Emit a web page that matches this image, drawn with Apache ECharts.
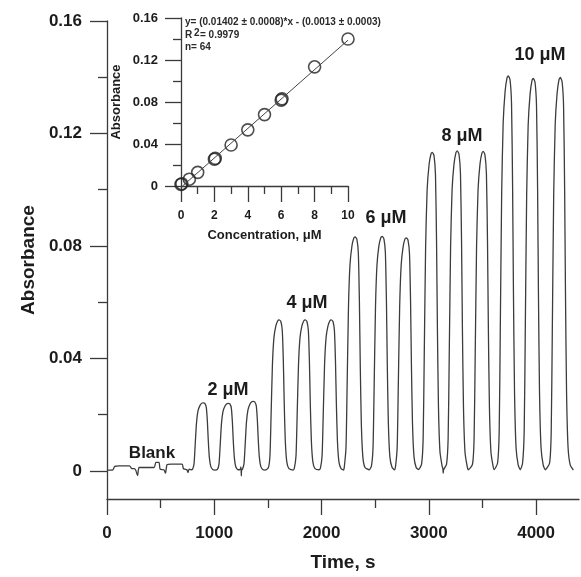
<!DOCTYPE html>
<html>
<head>
<meta charset="utf-8">
<script src="https://cdn.jsdelivr.net/npm/echarts@6/dist/echarts.min.js"></script>
<style>
html, body { margin: 0; padding: 0; background: #fff; }
#main { width: 581px; height: 577px; }
</style>
</head>
<body>
<div id="main"></div>
<script>
// main trace: [time s, absorbance]
const blankTrace = [[0,0.0003],[55,0.0004],[72,0.0016],[110,0.0018],[210,0.0018],[232,0.0008],[255,0.0008],[268,0.0002],[285,-0.0017],[298,0.0012],[330,0.0012],[440,0.0012],[455,0.0030],[485,0.0030],[495,0.0006],[530,0.0004],[545,-0.0008],[560,0.0022],[600,0.0024],[700,0.0024],[712,0.0008],[725,0.0006],[745,0.0004],[755,-0.0006],[765,0.0006],[785,0.0004]];

const trace2uM = [
  [796,0.0005],[811,0.0024],[821,0.0085],[834,0.0169],[848,0.0213],[866,0.0232],[884,0.0241],[896,0.0242],[912,0.0240],[926,0.0225],[936,0.0174],[944,0.0109],[954,0.0048],[968,0.0015],[988,0.0004],[1007,0.0003],
  [1029,0.0005],[1044,0.0024],[1054,0.0084],[1067,0.0168],[1081,0.0211],[1099,0.0230],[1117,0.0239],[1129,0.0240],[1145,0.0238],[1159,0.0223],[1169,0.0173],[1177,0.0108],[1187,0.0048],[1201,0.0014],[1221,0.0004],[1238,0.0004],[1249,0.0014],[1252,-0.0018],[1255,0.0004],
  [1262,0.0005],[1277,0.0025],[1287,0.0086],[1300,0.0173],[1314,0.0217],[1332,0.0237],[1350,0.0246],[1362,0.0247],[1378,0.0245],[1392,0.0230],[1402,0.0178],[1410,0.0111],[1420,0.0049],[1434,0.0015],[1454,0.0004],[1474,0.0003]
];

const trace4uM = [
  [1504,0.0011],[1519,0.0054],[1529,0.0188],[1542,0.0376],[1556,0.0473],[1574,0.0516],[1592,0.0534],[1604,0.0537],[1620,0.0532],[1634,0.0499],[1644,0.0387],[1652,0.0242],[1662,0.0107],[1676,0.0032],[1696,0.0008],[1735,0.0003],
  [1747,0.0011],[1762,0.0054],[1772,0.0188],[1785,0.0376],[1799,0.0473],[1817,0.0516],[1835,0.0534],[1847,0.0537],[1863,0.0532],[1877,0.0499],[1887,0.0387],[1895,0.0242],[1905,0.0107],[1919,0.0032],[1939,0.0008],[1978,0.0004],
  [1990,0.0011],[2005,0.0054],[2015,0.0188],[2028,0.0376],[2042,0.0473],[2060,0.0516],[2078,0.0534],[2090,0.0537],[2106,0.0532],[2120,0.0499],[2130,0.0387],[2138,0.0242],[2148,0.0107],[2162,0.0032],[2182,0.0008],[2205,0.0003]
];

const trace6uM = [
  [2213,0.0017],[2228,0.0083],[2238,0.0291],[2251,0.0582],[2265,0.0732],[2283,0.0799],[2301,0.0828],[2313,0.0832],[2329,0.0824],[2343,0.0774],[2353,0.0599],[2361,0.0374],[2371,0.0166],[2385,0.0050],[2405,0.0012],[2444,0.0004],
  [2465,0.0017],[2480,0.0083],[2490,0.0292],[2503,0.0584],[2517,0.0734],[2535,0.0801],[2553,0.0830],[2565,0.0834],[2581,0.0826],[2595,0.0776],[2605,0.0600],[2613,0.0375],[2623,0.0167],[2637,0.0050],[2657,0.0013],[2680,0.0004],
  [2690,0.0017],[2705,0.0083],[2715,0.0290],[2728,0.0580],[2742,0.0730],[2760,0.0796],[2778,0.0825],[2790,0.0829],[2806,0.0821],[2820,0.0771],[2830,0.0597],[2838,0.0373],[2848,0.0166],[2862,0.0050],[2882,0.0012],[2904,0.0005]
];

const trace8uM = [
  [2932,0.0023],[2947,0.0113],[2957,0.0397],[2970,0.0793],[2984,0.0997],[3002,0.1088],[3020,0.1127],[3032,0.1133],[3048,0.1122],[3062,0.1054],[3072,0.0816],[3080,0.0510],[3090,0.0227],[3104,0.0068],[3124,0.0017],[3131,0.0008],[3134,-0.0008],[3138,0.0004],
  [3165,0.0023],[3180,0.0114],[3190,0.0398],[3203,0.0797],[3217,0.1001],[3235,0.1092],[3253,0.1132],[3265,0.1138],[3281,0.1127],[3295,0.1058],[3305,0.0819],[3313,0.0512],[3323,0.0228],[3337,0.0068],[3357,0.0017],[3368,0.0004],
  [3407,0.0023],[3422,0.0114],[3432,0.0398],[3445,0.0795],[3459,0.1000],[3477,0.1091],[3495,0.1130],[3507,0.1136],[3523,0.1125],[3537,0.1056],[3547,0.0818],[3555,0.0511],[3565,0.0227],[3579,0.0068],[3599,0.0017],[3610,0.0005]
];

const trace10uM = [
  [3641,0.0028],[3656,0.0141],[3666,0.0492],[3679,0.0984],[3693,0.1236],[3711,0.1349],[3729,0.1398],[3741,0.1405],[3757,0.1391],[3771,0.1307],[3781,0.1012],[3789,0.0632],[3799,0.0281],[3813,0.0084],[3833,0.0021],[3853,0.0004],
  [3874,0.0028],[3889,0.0140],[3899,0.0489],[3912,0.0977],[3926,0.1228],[3944,0.1340],[3962,0.1389],[3974,0.1396],[3990,0.1382],[4004,0.1298],[4014,0.1005],[4022,0.0628],[4032,0.0279],[4046,0.0084],[4066,0.0021],[4086,0.0004],
  [4126,0.0028],[4141,0.0140],[4151,0.0490],[4164,0.0979],[4178,0.1231],[4196,0.1343],[4214,0.1392],[4226,0.1399],[4242,0.1385],[4256,0.1301],[4266,0.1007],[4274,0.0630],[4284,0.0280],[4298,0.0084],[4318,0.0021],[4347,0.0003]
];

// inset calibration
const concentration = [0, 0.05, 0.5, 1, 2, 2.05, 3, 4, 5, 6, 6.05, 8, 10];
const absorbanceCal = [0.0015, 0.0022, 0.0065, 0.0130, 0.0255, 0.0263, 0.0390, 0.0535, 0.0680, 0.0818, 0.0830, 0.1135, 0.1400];
const fitLine = [[0.1, 0.0001], [10, 0.1389]];

// tick labels
const timeTicks = [0, 1000, 2000, 3000, 4000];
const timeMinor = [500, 1500, 2500, 3500];
const absTicks = [0, 0.04, 0.08, 0.12, 0.16];
const absMinor = [0.02, 0.06, 0.10, 0.14];

const font = 'Liberation Sans';
const ink = '#1c1c1c';
const axisColor = '#3a3a3a';

const chart = echarts.init(document.getElementById('main'));

const mainTrace = [].concat(blankTrace, trace2uM, trace4uM, trace6uM, trace8uM, trace10uM);

function label(text, x, y, size) {
  return {
    type: 'text', x: x, y: y, z: 100,
    style: {
      text: text, fill: ink, align: 'center', verticalAlign: 'middle',
      font: 'bold ' + size + 'px "' + font + '"'
    }
  };
}
function eqText(text, x, y, size) {
  return {
    type: 'text', x: x, y: y, z: 100,
    style: {
      text: text, fill: '#2a2a2a', align: 'left', verticalAlign: 'middle',
      font: 'bold ' + size + 'px "' + font + '"'
    }
  };
}

const lineStyle = { color: axisColor, width: 1.3 };

chart.setOption({
  animation: false,
  backgroundColor: '#fff',
  grid: [
    { left: 107, top: 21, width: 472, height: 483 },
    { left: 181, top: 18, width: 167, height: 168 }
  ],
  xAxis: [
    {
      gridIndex: 0, type: 'value', min: 0, max: 4400, position: 'bottom',
      axisLine: { onZero: false, lineStyle: lineStyle },
      axisTick: { customValues: timeTicks, length: 16, lineStyle: lineStyle },
      axisLabel: { customValues: timeTicks, formatter: v => String(v), margin: 26, color: ink, fontFamily: font, fontWeight: 'bold', fontSize: 17 },
      splitLine: { show: false },
      name: 'Time, s', nameLocation: 'middle', nameGap: 54,
      nameTextStyle: { color: ink, fontFamily: font, fontWeight: 'bold', fontSize: 19 }
    },
    {
      gridIndex: 0, type: 'value', min: 0, max: 4400, position: 'bottom',
      axisLine: { show: false, onZero: false },
      axisTick: { customValues: timeMinor, length: 9, lineStyle: lineStyle },
      axisLabel: { show: false },
      splitLine: { show: false }
    },
    {
      gridIndex: 1, type: 'value', min: 0, max: 10, interval: 2, position: 'bottom',
      axisLine: { onZero: false, lineStyle: lineStyle },
      axisTick: { length: 16, lineStyle: lineStyle },
      minorTick: { show: true, splitNumber: 2, length: 8, lineStyle: lineStyle },
      axisLabel: { margin: 24, color: ink, fontFamily: font, fontWeight: 'bold', fontSize: 12 },
      splitLine: { show: false },
      name: 'Concentration, μM', nameLocation: 'middle', nameGap: 43,
      nameTextStyle: { color: ink, fontFamily: font, fontWeight: 'bold', fontSize: 13 }
    }
  ],
  yAxis: [
    {
      gridIndex: 0, type: 'value', min: -0.01, max: 0.16, position: 'left',
      axisLine: { onZero: false, lineStyle: lineStyle },
      axisTick: { customValues: absTicks, length: 17, lineStyle: lineStyle },
      axisLabel: { customValues: absTicks, margin: 25, color: ink, fontFamily: font, fontWeight: 'bold', fontSize: 17 },
      splitLine: { show: false },
      name: 'Absorbance', nameLocation: 'middle', nameGap: 67,
      nameTextStyle: { color: ink, fontFamily: font, fontWeight: 'bold', fontSize: 19 }
    },
    {
      gridIndex: 0, type: 'value', min: -0.01, max: 0.16, position: 'left',
      axisLine: { show: false, onZero: false },
      axisTick: { customValues: absMinor, length: 9, lineStyle: lineStyle },
      axisLabel: { show: false },
      splitLine: { show: false }
    },
    {
      gridIndex: 1, type: 'value', min: 0, max: 0.16, interval: 0.04, position: 'left',
      axisLine: { onZero: false, lineStyle: lineStyle },
      axisTick: { length: 16, lineStyle: lineStyle },
      minorTick: { show: true, splitNumber: 2, length: 8, lineStyle: lineStyle },
      axisLabel: { margin: 23, color: ink, fontFamily: font, fontWeight: 'bold', fontSize: 13 },
      splitLine: { show: false },
      name: 'Absorbance', nameLocation: 'middle', nameGap: 58,
      nameTextStyle: { color: ink, fontFamily: font, fontWeight: 'bold', fontSize: 13 }
    }
  ],
  series: [
    {
      type: 'line', xAxisIndex: 0, yAxisIndex: 0,
      data: mainTrace, showSymbol: false, smooth: 0.2,
      lineStyle: { color: '#3c3c3c', width: 1.3 }
    },
    {
      type: 'line', xAxisIndex: 2, yAxisIndex: 2,
      data: fitLine, showSymbol: false,
      lineStyle: { color: '#444', width: 1 }
    },
    {
      type: 'scatter', xAxisIndex: 2, yAxisIndex: 2,
      data: concentration.map((c, i) => [c, absorbanceCal[i]]),
      symbol: 'circle', symbolSize: 12,
      itemStyle: { color: 'rgba(255,255,255,0)', borderColor: '#222', borderWidth: 1.6 }
    }
  ],
  graphic: [
    label('Blank', 152, 453, 17),
    label('2 μM', 228, 390, 18),
    label('4 μM', 307, 303, 18),
    label('6 μM', 386, 218, 18),
    label('8 μM', 462, 136, 18),
    label('10 μM', 540, 55, 18),
    eqText('y= (0.01402 ± 0.0008)*x - (0.0013 ± 0.0003)', 185, 22, 10),
    eqText('R', 185, 35, 10),
    eqText('2', 194, 33, 10),
    eqText('= 0.9979', 200, 35, 10),
    eqText('n= 64', 185, 47, 10)
  ]
});
</script>
</body>
</html>
